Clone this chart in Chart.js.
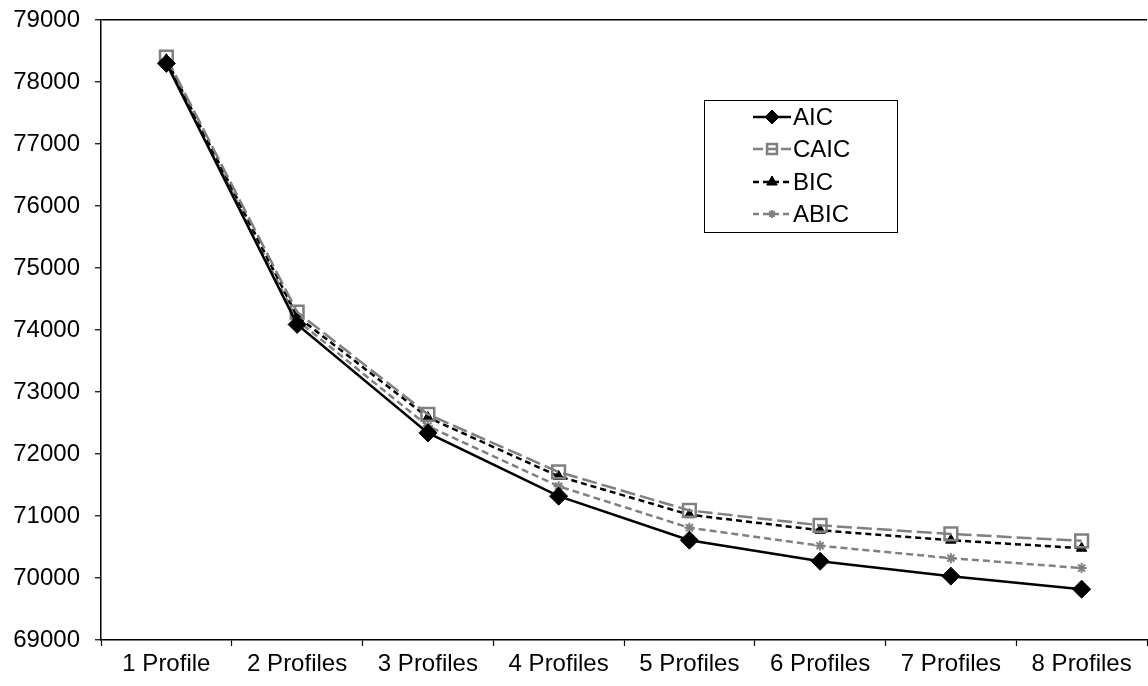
<!DOCTYPE html>
<html>
<head>
<meta charset="utf-8">
<script src="https://cdn.jsdelivr.net/npm/chart.js@4.4.1/dist/chart.umd.min.js"></script>
<style>
html, body { margin: 0; padding: 0; background: #fff; }
#wrap { width: 1148px; height: 686px; }
</style>
</head>
<body>
<div id="wrap"><canvas id="icChart" width="1148" height="686"></canvas></div>
<script>
const labels = ["1 Profile", "2 Profiles", "3 Profiles", "4 Profiles", "5 Profiles", "6 Profiles", "7 Profiles", "8 Profiles"];
const aic  = [78300, 74090, 72340, 71320, 70610, 70270, 70030, 69820];
const caic = [78400, 74290, 72640, 71710, 71090, 70850, 70710, 70600];
const bic  = [78360, 74220, 72590, 71640, 71020, 70770, 70610, 70480];
const abic = [78320, 74160, 72450, 71480, 70810, 70520, 70320, 70160];
const yTicks = [69000, 70000, 71000, 72000, 73000, 74000, 75000, 76000, 77000, 78000, 79000];

const FONT = "'Liberation Sans', Arial, sans-serif";
const GRAY = "#808080";

// legend drawn inside the plot, like the original
const boxLegend = {
  id: "boxLegend",
  afterDraw(c) {
    const ctx = c.ctx;
    const x0 = 704, y0 = 100, w = 193, h = 132;
    ctx.save();
    ctx.fillStyle = "#fff";
    ctx.fillRect(x0, y0, w, h);
    ctx.strokeStyle = "#000";
    ctx.lineWidth = 1;
    ctx.strokeRect(x0 + 0.5, y0 + 0.5, w, h);
    const rows = [117, 149, 182, 214];
    c.data.datasets.forEach((ds, i) => {
      const y = rows[i];
      ctx.save();
      ctx.strokeStyle = ds.borderColor;
      ctx.lineWidth = ds.borderWidth;
      ctx.setLineDash(ds.legendDash || []);
      ctx.beginPath();
      ctx.moveTo(753, y);
      ctx.lineTo(791, y);
      ctx.stroke();
      ctx.restore();
      ctx.save();
      ctx.strokeStyle = ds.pointBorderColor;
      ctx.fillStyle = ds.pointBackgroundColor;
      ctx.lineWidth = ds.pointBorderWidth;
      Chart.helpers.drawPoint(ctx, {
        pointStyle: ds.pointStyle,
        radius: ds.legendRadius,
        rotation: 0,
        borderWidth: ds.pointBorderWidth
      }, 772, y);
      ctx.restore();
      ctx.fillStyle = "#000";
      ctx.font = "24px " + FONT;
      ctx.textBaseline = "middle";
      ctx.fillText(ds.label, 793, y + 1);
    });
    ctx.restore();
  }
};

const ctx = document.getElementById("icChart").getContext("2d");
const chart = new Chart(ctx, {
  type: "line",
  data: {
    labels: labels,
    datasets: [
      {
        label: "AIC", data: aic,
        borderColor: "#000", borderWidth: 2.5,
        pointStyle: "rectRot", pointRadius: 9, legendRadius: 7,
        pointBackgroundColor: "#000", pointBorderColor: "#000", pointBorderWidth: 1
      },
      {
        label: "CAIC", data: caic,
        borderColor: GRAY, borderWidth: 2.5, borderDash: [15, 5], legendDash: [10, 4],
        pointStyle: "rect", pointRadius: 9, legendRadius: 7,
        pointBackgroundColor: "rgba(255,255,255,0)", pointBorderColor: GRAY, pointBorderWidth: 2.5
      },
      {
        label: "BIC", data: bic,
        borderColor: "#000", borderWidth: 2.5, borderDash: [6, 4], legendDash: [6, 4],
        pointStyle: "triangle", pointRadius: 6, legendRadius: 6,
        pointBackgroundColor: "#000", pointBorderColor: "#000", pointBorderWidth: 1
      },
      {
        label: "ABIC", data: abic,
        borderColor: GRAY, borderWidth: 2.5, borderDash: [7, 4], legendDash: [6, 4],
        pointStyle: "star", pointRadius: 5, legendRadius: 4,
        pointBackgroundColor: GRAY, pointBorderColor: GRAY, pointBorderWidth: 2
      }
    ]
  },
  options: {
    responsive: false,
    animation: false,
    layout: { autoPadding: false, padding: { top: 20, left: 0, right: 1, bottom: 0 } },
    plugins: {
      legend: { display: false },
      tooltip: { enabled: false }
    },
    elements: { line: { tension: 0 } },
    scales: {
      x: {
        offset: true,
        grid: {
          offset: true, drawOnChartArea: false, tickLength: 6,
          tickColor: "#000", tickWidth: 1.2
        },
        border: { color: "#000", width: 1.5 },
        ticks: { color: "#000", font: { family: FONT, size: 24 }, padding: 4, maxRotation: 0, autoSkip: false },
        afterFit(s) { s.height = 46; s.paddingLeft = 0; s.paddingRight = 0; }
      },
      y: {
        min: 69000, max: 79000,
        afterBuildTicks(s) { s.ticks = yTicks.map(v => ({ value: v })); },
        grid: {
          color: c => (c.tick && c.tick.value === 79000 ? "#000" : "rgba(0,0,0,0)"),
          lineWidth: 1.5, tickLength: 6, tickColor: "#000", tickWidth: 1.2
        },
        border: { color: "#000", width: 1.5 },
        ticks: {
          color: "#000", font: { family: FONT, size: 24 }, padding: 15,
          callback: v => String(v)
        },
        afterFit(s) { s.width = 101; s.paddingTop = 0; s.paddingBottom = 0; }
      }
    }
  },
  plugins: [boxLegend]
});
</script>
</body>
</html>
